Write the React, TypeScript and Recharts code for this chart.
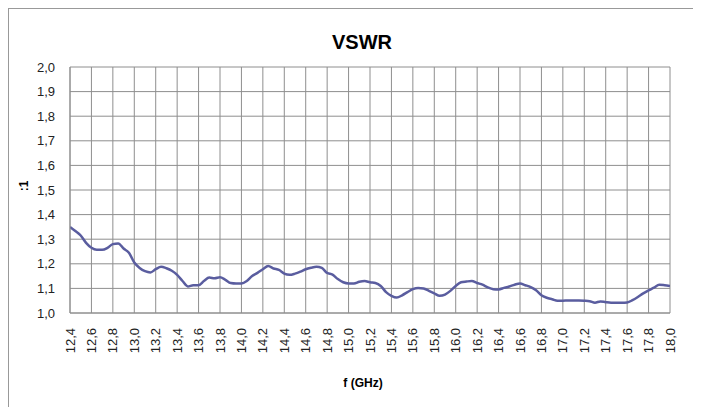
import React from 'react';
import { LineChart, Line, XAxis, YAxis, CartesianGrid } from 'recharts';

const freqs = [
  12.4, 12.45, 12.5, 12.55, 12.6, 12.65, 12.7, 12.75, 12.8, 12.85, 12.9, 12.95,
  13.0, 13.05, 13.1, 13.15, 13.2, 13.25, 13.3, 13.35, 13.4, 13.45, 13.5, 13.55,
  13.6, 13.65, 13.7, 13.75, 13.8, 13.85, 13.9, 13.95, 14.0, 14.05, 14.1, 14.15,
  14.2, 14.25, 14.3, 14.35, 14.4, 14.45, 14.5, 14.55, 14.6, 14.65, 14.7, 14.75,
  14.8, 14.85, 14.9, 14.95, 15.0, 15.05, 15.1, 15.15, 15.2, 15.25, 15.3, 15.35,
  15.4, 15.45, 15.5, 15.55, 15.6, 15.65, 15.7, 15.75, 15.8, 15.85, 15.9, 15.95,
  16.0, 16.05, 16.1, 16.15, 16.2, 16.25, 16.3, 16.35, 16.4, 16.45, 16.5, 16.55,
  16.6, 16.65, 16.7, 16.75, 16.8, 16.85, 16.9, 16.95, 17.0, 17.05, 17.1, 17.15,
  17.2, 17.25, 17.3, 17.35, 17.4, 17.45, 17.5, 17.55, 17.6, 17.65, 17.7, 17.75,
  17.8, 17.85, 17.9, 17.95, 18.0,
];

const vswr = [
  1.350, 1.333, 1.315, 1.285, 1.265, 1.257, 1.257, 1.265, 1.280, 1.283, 1.262, 1.245,
  1.205, 1.183, 1.170, 1.165, 1.178, 1.188, 1.182, 1.172, 1.155, 1.130, 1.108, 1.113,
  1.113, 1.130, 1.144, 1.141, 1.145, 1.135, 1.122, 1.120, 1.120, 1.130, 1.150, 1.163,
  1.178, 1.191, 1.181, 1.175, 1.160, 1.155, 1.160, 1.168, 1.178, 1.184, 1.188, 1.183,
  1.163, 1.156, 1.138, 1.125, 1.120, 1.120, 1.127, 1.130, 1.125, 1.122, 1.110, 1.085,
  1.070, 1.063, 1.072, 1.085, 1.097, 1.102, 1.100, 1.090, 1.080, 1.070, 1.075, 1.090,
  1.110, 1.125, 1.128, 1.130, 1.122, 1.115, 1.104, 1.097, 1.096, 1.102, 1.108, 1.115,
  1.120, 1.113, 1.105, 1.092, 1.072, 1.062, 1.056, 1.050, 1.050, 1.051, 1.051, 1.051,
  1.050, 1.048, 1.042, 1.047, 1.044, 1.042, 1.042, 1.042, 1.043, 1.052, 1.065, 1.080,
  1.092, 1.103, 1.115, 1.113, 1.110,
];

const xTicks = [
  12.4, 12.6, 12.8, 13.0, 13.2, 13.4, 13.6, 13.8, 14.0, 14.2, 14.4, 14.6, 14.8, 15.0,
  15.2, 15.4, 15.6, 15.8, 16.0, 16.2, 16.4, 16.6, 16.8, 17.0, 17.2, 17.4, 17.6, 17.8, 18.0,
];

const yTicks = [1.0, 1.1, 1.2, 1.3, 1.4, 1.5, 1.6, 1.7, 1.8, 1.9, 2.0];

const title = 'VSWR';
const xLabel = 'f (GHz)';
const yLabel = ':1';

const data = freqs.map((f, i) => ({ f, v: vswr[i] }));

const FONT = '"Liberation Sans", Arial, sans-serif';
const fmt = (v: number) => v.toFixed(1).replace('.', ',');

const XTick = (props: any) => {
  const { x, y, payload } = props;
  return (
    <g transform={`translate(${x},${y})`}>
      <text
        transform="rotate(-90)"
        textAnchor="end"
        dy="0.35em"
        fontSize={13}
        fontFamily={FONT}
        fill="#222"
      >
        {fmt(payload.value)}
      </text>
    </g>
  );
};

export default function App() {
  const W = 687;
  const H = 398;
  return (
    <div
      style={{
        width: 689,
        height: 400,
        border: '1px solid #999',
        boxSizing: 'border-box',
        position: 'relative',
        background: '#fff',
      }}
    >
      <LineChart
        width={W}
        height={H}
        data={data}
        margin={{ top: 58, right: 26, bottom: 34, left: 21 }}
      >
        <CartesianGrid stroke="#8e8e8e" strokeWidth={1} />
        <XAxis
          dataKey="f"
          type="number"
          domain={[12.4, 18]}
          ticks={xTicks}
          interval={0}
          height={60}
          tickSize={0}
          tickMargin={15}
          tick={<XTick />}
          axisLine={{ stroke: '#8e8e8e' }}
          allowDataOverflow
        />
        <YAxis
          type="number"
          domain={[1, 2]}
          ticks={yTicks}
          interval={0}
          width={40}
          tickSize={0}
          tickMargin={15}
          tickFormatter={fmt}
          tick={{ fontSize: 13, fontFamily: FONT, fill: '#222' }}
          axisLine={{ stroke: '#8e8e8e' }}
          allowDataOverflow
        />
        <Line
          type="monotone"
          dataKey="v"
          stroke="#5a5d9f"
          strokeWidth={2.5}
          dot={false}
          isAnimationActive={false}
        />
      </LineChart>
      <svg
        width={W}
        height={H}
        style={{ position: 'absolute', left: 0, top: 0, pointerEvents: 'none' }}
      >
        <text
          x={353}
          y={40}
          textAnchor="middle"
          fontSize={20}
          fontWeight="bold"
          fontFamily={FONT}
          fill="#000"
        >
          {title}
        </text>
        <text
          x={15}
          y={177}
          transform="rotate(-90 15 177)"
          textAnchor="middle"
          dominantBaseline="central"
          fontSize={12}
          fontWeight="bold"
          fontFamily={FONT}
          fill="#000"
        >
          {yLabel}
        </text>
        <text
          x={354}
          y={378}
          textAnchor="middle"
          fontSize={12}
          fontWeight="bold"
          fontFamily={FONT}
          fill="#000"
        >
          {xLabel}
        </text>
      </svg>
    </div>
  );
}
